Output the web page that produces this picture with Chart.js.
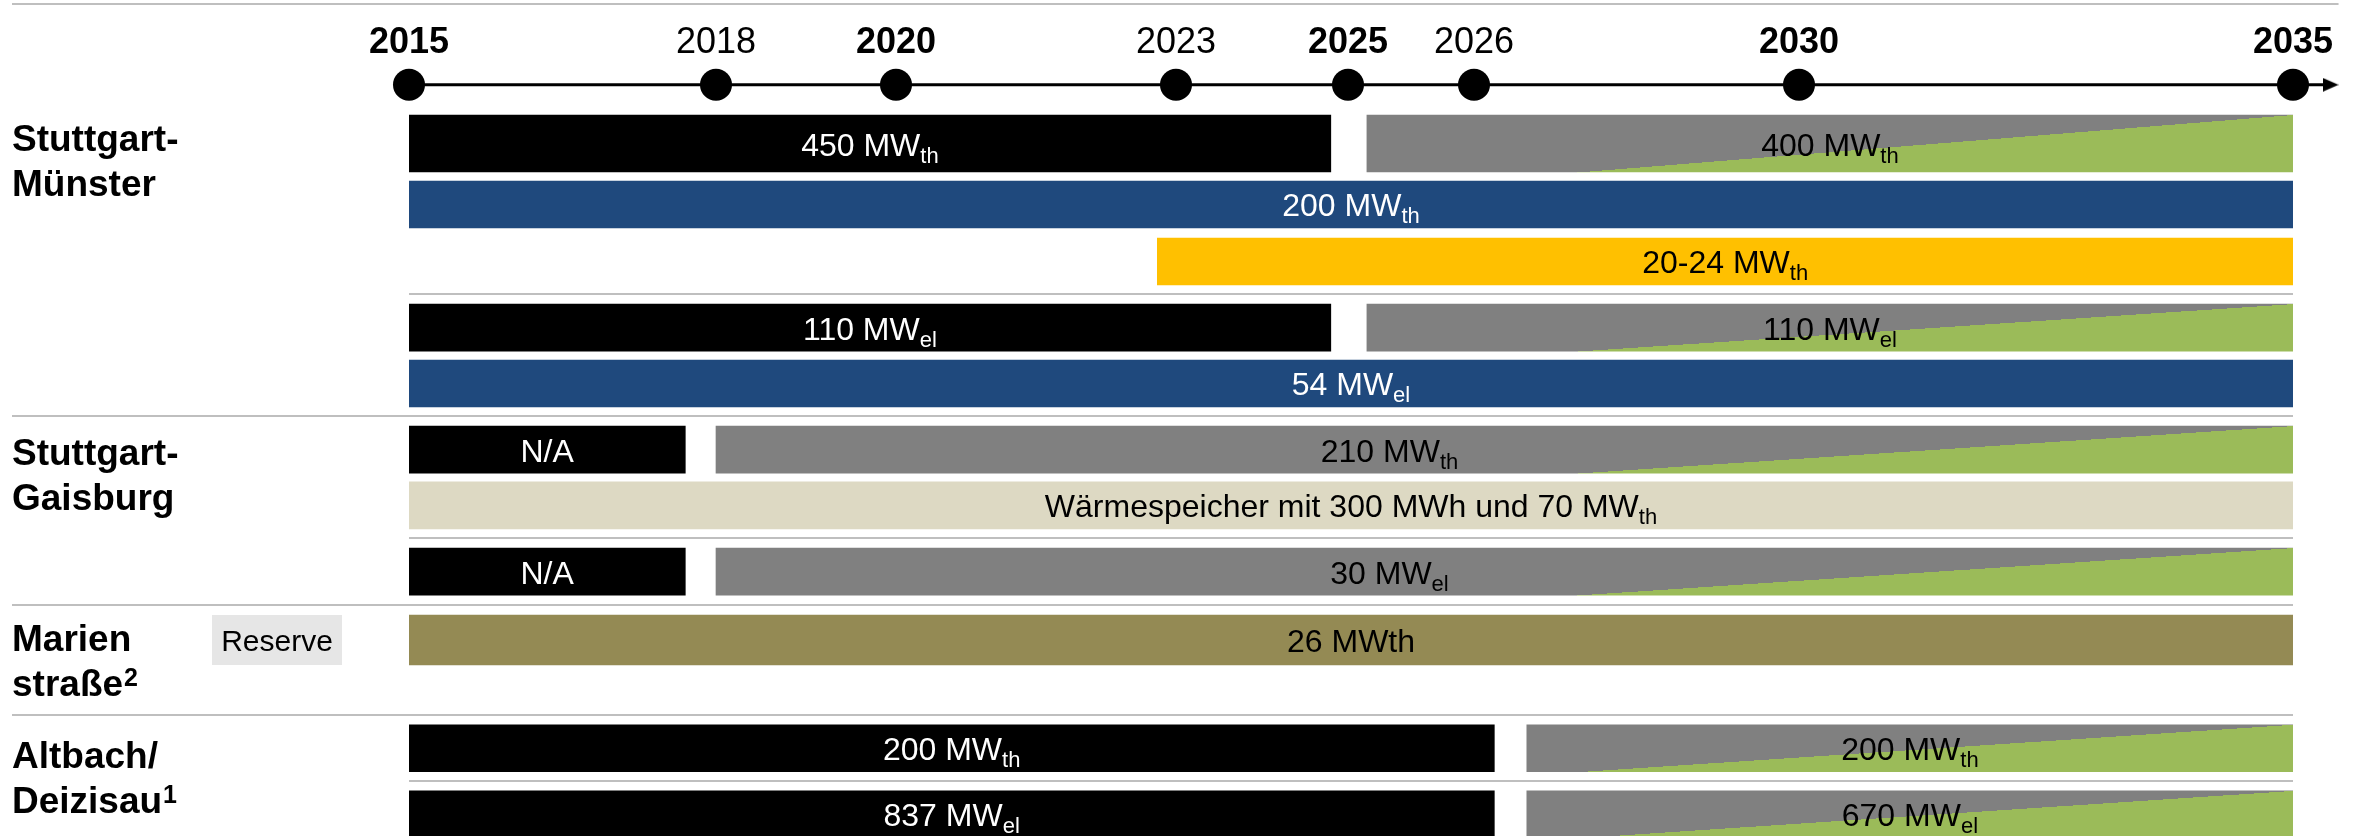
<!DOCTYPE html>
<html lang="de">
<head>
<meta charset="utf-8">
<title>Standorte – Zeitplan 2015 bis 2035</title>
<script src="https://cdn.jsdelivr.net/npm/chart.js@4.4.1/dist/chart.umd.min.js"></script>
<style>
  html, body { margin: 0; padding: 0; background: #fff; }
  canvas { display: block; }
</style>
</head>
<body>
<canvas id="plan" width="2369" height="836"></canvas>
<script>
// Jahresmarken auf dem Zeitstrahl
const jahre = [2015, 2018, 2020, 2023, 2025, 2026, 2030, 2035];
const jahreFett = [2015, 2020, 2025, 2030, 2035];

// Standorte, zweizeilig; Text nach "^" wird hochgestellt
const standorte = [
  ['Stuttgart-', 'Münster'],
  ['Stuttgart-', 'Gaisburg'],
  ['Marien', 'straße^2'],
  ['Altbach/', 'Deizisau^1']
];

// Zeiträume je Zeile: [von, bis] in Jahren
const zeitraeume = [
  [[2015, 2024.8], [2025.15, 2035]],
  [[2015, 2035]],
  [[2022.8, 2035]],
  [[2015, 2024.8], [2025.15, 2035]],
  [[2015, 2035]],
  [[2015, 2017.7], [2018, 2035]],
  [[2015, 2035]],
  [[2015, 2017.7], [2018, 2035]],
  [[2015, 2035]],
  [[2015, 2026.25], [2026.65, 2035]],
  [[2015, 2026.25], [2026.65, 2035]]
];

// Art der Anlage je Balken
const arten = [
  ['bestand', 'umbau'], ['blau'], ['gelb'],
  ['bestand', 'umbau'], ['blau'],
  ['bestand', 'umbau'], ['speicher'], ['bestand', 'umbau'],
  ['reserve'],
  ['bestand', 'umbau'], ['bestand', 'umbau']
];

// Leistungsangaben, Text nach "_" wird tiefgestellt
const leistungen = [
  ['450 MW_th', '400 MW_th'], ['200 MW_th'], ['20-24 MW_th'],
  ['110 MW_el', '110 MW_el'], ['54 MW_el'],
  ['N/A', '210 MW_th'], ['Wärmespeicher mit 300 MWh und 70 MW_th'], ['N/A', '30 MW_el'],
  ['26 MWth'],
  ['200 MW_th', '200 MW_th'], ['837 MW_el', '670 MW_el']
];

// ab hier Umstellung auf erneuerbare Erzeugung (grüner Keil)
const gruenAb = 2027.35;

// --- Layout ---
const markenAnteil = [0, 0.16295, 0.25849, 0.40711, 0.49841, 0.56529, 0.73779, 1];
const zeilenLage = [0, 1.07, 2.07, 3.23, 4.21, 5.37, 6.35, 7.51, 8.71, 10.61, 11.77];
const zeilenHoehe = [57, 47, 47, 47, 47, 47, 47, 47, 50, 47, 47];
const zeitstrahlLage = -1.03;
const pfeilEnde = 2035.38;
const zeilenRaster = 57;
const yMin = -143.5 / zeilenRaster;
const yMax = yMin + 836 / zeilenRaster;
const trennlinien = [
  { vor: 3, ganz: false }, { vor: 5, ganz: true }, { vor: 7, ganz: false },
  { vor: 8, ganz: true }, { vor: 9, ganz: true }, { vor: 10, ganz: false }
];
const standortZeile = [0, 5, 8, 9];
const standortVersatz = [7, 15.5, 11, 19.5];
const textVersatz = { 5: [0, -115], 7: [0, -115] };
const linksRand = 12;

const farben = {
  bestand: '#000000', umbau: '#808080', gruen: '#9bbb59', blau: '#1f497d',
  gelb: '#ffc000', speicher: '#ddd9c3', reserve: '#948a54'
};
const helleSchrift = ['bestand', 'blau'];
const schrift = '"Liberation Sans", Arial, sans-serif';

// Zeitachse mit ungleichen Abständen zwischen den Jahresmarken
function abschnitt(wert) {
  let i = 0;
  while (i < jahre.length - 2 && wert > jahre[i + 1]) i++;
  return i;
}
class Zeitachse extends Chart.LinearScale {
  getPixelForValue(wert) {
    const i = abschnitt(wert);
    const t = markenAnteil[i] + (wert - jahre[i]) / (jahre[i + 1] - jahre[i]) * (markenAnteil[i + 1] - markenAnteil[i]);
    return this.getPixelForDecimal(t);
  }
  getValueForPixel(pixel) {
    const t = this.getDecimalForPixel(pixel);
    let i = 0;
    while (i < markenAnteil.length - 2 && t > markenAnteil[i + 1]) i++;
    return jahre[i] + (t - markenAnteil[i]) / (markenAnteil[i + 1] - markenAnteil[i]) * (jahre[i + 1] - jahre[i]);
  }
}
Zeitachse.id = 'zeitachse';
Zeitachse.defaults = Chart.LinearScale.defaults;
Chart.register(Zeitachse);

// grau mit grünem Keil von unten links bis oben rechts
function fuellung(c, r) {
  if (c.dataIndex === undefined) return farben.umbau;
  const art = arten[r][c.dataIndex];
  if (art !== 'umbau') return farben[art];
  const chart = c.chart;
  const xs = chart.scales.x, ys = chart.scales.y;
  if (!chart.chartArea || !xs || !ys) return farben.umbau;
  const mitte = ys.getPixelForValue(zeilenLage[r]);
  const h = zeilenHoehe[r];
  const oben = mitte - h / 2, unten = mitte + h / 2;
  const xa = xs.getPixelForValue(gruenAb);
  const xb = xs.getPixelForValue(zeitraeume[r][c.dataIndex][1]);
  let nx = unten - oben, ny = xb - xa;
  const len = Math.hypot(nx, ny);
  nx /= len; ny /= len;
  const L = 2000;
  const g = chart.ctx.createLinearGradient(xa - nx * L, unten - ny * L, xa + nx * L, unten + ny * L);
  g.addColorStop(0, farben.umbau);
  g.addColorStop(0.5, farben.umbau);
  g.addColorStop(0.5, farben.gruen);
  g.addColorStop(1, farben.gruen);
  return g;
}

// Pfeilspitze am Ende des Zeitstrahls
const pfeil = document.createElement('canvas');
pfeil.width = 16; pfeil.height = 14;
(function () {
  const p = pfeil.getContext('2d');
  p.fillStyle = '#000';
  p.beginPath(); p.moveTo(0, 0); p.lineTo(16, 7); p.lineTo(0, 14); p.closePath(); p.fill();
})();

const zeitstrahl = {
  type: 'line',
  data: [...jahre.map(j => ({ x: j, y: zeitstrahlLage })), { x: pfeilEnde, y: zeitstrahlLage }],
  borderColor: '#000',
  borderWidth: 3,
  pointBackgroundColor: '#000',
  pointBorderWidth: 0,
  pointRadius: c => (c.dataIndex === jahre.length ? 40 : 16),
  pointStyle: c => (c.dataIndex === jahre.length ? pfeil : 'circle'),
  clip: false
};

const balken = zeitraeume.map((spannen, r) => ({
  type: 'bar',
  data: spannen.map(s => ({ x: s, y: zeilenLage[r] })),
  barThickness: zeilenHoehe[r],
  grouped: false,
  borderWidth: 0,
  backgroundColor: c => fuellung(c, r),
  zeile: r
}));

function zeilenOben(chart, r) {
  return chart.scales.y.getPixelForValue(zeilenLage[r]) - zeilenHoehe[r] / 2;
}

function linie(ctx, x1, x2, y) {
  ctx.beginPath(); ctx.moveTo(x1, y); ctx.lineTo(x2, y); ctx.stroke();
}

function textMitIndex(ctx, text, cx, grundlinie, farbe) {
  const [haupt, index] = text.split('_');
  const fHaupt = '32px ' + schrift, fIndex = '22px ' + schrift;
  ctx.font = fHaupt;
  const w1 = ctx.measureText(haupt).width;
  let w2 = 0;
  if (index) { ctx.font = fIndex; w2 = ctx.measureText(index).width; }
  const x0 = cx - (w1 + w2) / 2;
  ctx.textAlign = 'left';
  ctx.textBaseline = 'alphabetic';
  ctx.fillStyle = farbe;
  ctx.font = fHaupt;
  ctx.fillText(haupt, x0, grundlinie);
  if (index) { ctx.font = fIndex; ctx.fillText(index, x0 + w1, grundlinie + 7); }
}

// Standortname mit hochgestellter Fußnote
function textMitFussnote(ctx, text, x, grundlinie) {
  const [haupt, fussnote] = text.split('^');
  ctx.font = 'bold 37px ' + schrift;
  ctx.fillText(haupt, x, grundlinie);
  if (fussnote) {
    const w = ctx.measureText(haupt).width;
    ctx.font = 'bold 25px ' + schrift;
    ctx.fillText(fussnote, x + w + 1, grundlinie - 10);
  }
}

const beschriftung = {
  id: 'beschriftung',
  beforeDatasetsDraw(chart) {
    const { ctx, chartArea } = chart;
    const xs = chart.scales.x, ys = chart.scales.y;
    ctx.save();
    // Trennlinien
    ctx.strokeStyle = '#bfbfbf';
    ctx.lineWidth = 2;
    linie(ctx, linksRand, xs.getPixelForValue(pfeilEnde) + 8, 4);
    trennlinien.forEach(t => {
      const y = Math.round(zeilenOben(chart, t.vor) - 10);
      linie(ctx, t.ganz ? linksRand : chartArea.left, chartArea.right, y);
    });
    // Reserve-Kennzeichnung vor Marienstraße
    const rOben = zeilenOben(chart, 8);
    ctx.fillStyle = '#e6e6e6';
    ctx.fillRect(212, rOben, 130, zeilenHoehe[8]);
    ctx.fillStyle = '#000';
    ctx.font = '30px ' + schrift;
    ctx.textAlign = 'center';
    ctx.textBaseline = 'alphabetic';
    ctx.fillText('Reserve', 277, rOben + zeilenHoehe[8] / 2 + 11);
    // Standortnamen
    ctx.textAlign = 'left';
    standorte.forEach((zeilen, s) => {
      const y0 = ys.getPixelForValue(zeilenLage[standortZeile[s]]) + standortVersatz[s];
      zeilen.forEach((t, k) => textMitFussnote(ctx, t, linksRand, y0 + k * 45));
    });
    // Jahreszahlen über dem Zeitstrahl
    const yJahr = ys.getPixelForValue(zeitstrahlLage) - 32;
    ctx.textAlign = 'center';
    jahre.forEach(j => {
      ctx.font = (jahreFett.includes(j) ? 'bold ' : '') + '36px ' + schrift;
      ctx.fillText(String(j), xs.getPixelForValue(j), yJahr);
    });
    ctx.restore();
  },
  afterDatasetsDraw(chart) {
    const ctx = chart.ctx;
    ctx.save();
    chart.data.datasets.forEach((ds, d) => {
      if (ds.zeile === undefined) return;
      const r = ds.zeile;
      chart.getDatasetMeta(d).data.forEach((bar, i) => {
        const versatz = textVersatz[r] ? textVersatz[r][i] : 0;
        const farbe = helleSchrift.includes(arten[r][i]) ? '#fff' : '#000';
        textMitIndex(ctx, leistungen[r][i], (bar.x + bar.base) / 2 + versatz, bar.y + 12, farbe);
      });
    });
    ctx.restore();
  }
};

new Chart(document.getElementById('plan'), {
  type: 'bar',
  data: { datasets: [zeitstrahl, ...balken] },
  options: {
    indexAxis: 'y',
    responsive: false,
    devicePixelRatio: 1,
    animation: false,
    events: [],
    layout: { autoPadding: false, padding: { left: 409, right: 76, top: 0, bottom: 0 } },
    scales: {
      x: { type: 'zeitachse', min: 2015, max: 2035, beginAtZero: false, display: false },
      y: { type: 'linear', min: yMin, max: yMax, reverse: true, offset: false, display: false }
    },
    plugins: { legend: { display: false }, tooltip: { enabled: false } }
  },
  plugins: [beschriftung]
});
</script>
</body>
</html>
